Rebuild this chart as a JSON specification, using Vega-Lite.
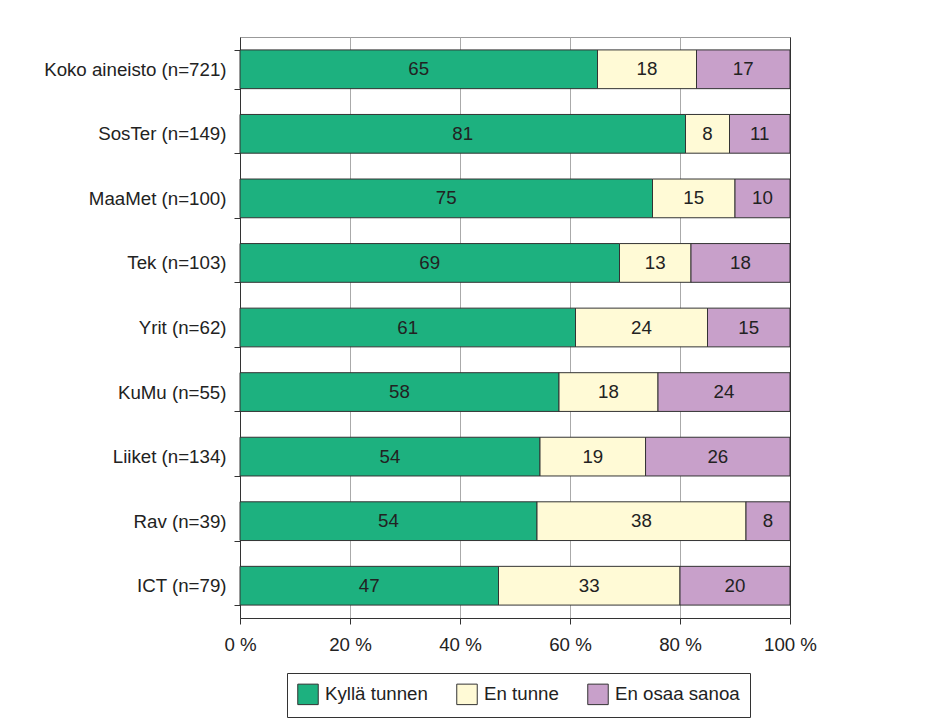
{
  "$schema": "https://vega.github.io/schema/vega-lite/v6.json",
  "width": 550,
  "height": 581,
  "autosize": {"type": "none"},
  "padding": {"left": 240, "top": 37, "right": 135, "bottom": 109},
  "background": "white",
  "config": {
    "font": "Liberation Sans",
    "view": {"stroke": "#999", "strokeWidth": 1}
  },
  "data": {
    "values": [
      {"ryhma": "Koko aineisto (n=721)", "vastaus": "Kyllä tunnen", "o": 1, "pct": 65},
      {"ryhma": "Koko aineisto (n=721)", "vastaus": "En tunne", "o": 2, "pct": 18},
      {"ryhma": "Koko aineisto (n=721)", "vastaus": "En osaa sanoa", "o": 3, "pct": 17},
      {"ryhma": "SosTer (n=149)", "vastaus": "Kyllä tunnen", "o": 1, "pct": 81},
      {"ryhma": "SosTer (n=149)", "vastaus": "En tunne", "o": 2, "pct": 8},
      {"ryhma": "SosTer (n=149)", "vastaus": "En osaa sanoa", "o": 3, "pct": 11},
      {"ryhma": "MaaMet (n=100)", "vastaus": "Kyllä tunnen", "o": 1, "pct": 75},
      {"ryhma": "MaaMet (n=100)", "vastaus": "En tunne", "o": 2, "pct": 15},
      {"ryhma": "MaaMet (n=100)", "vastaus": "En osaa sanoa", "o": 3, "pct": 10},
      {"ryhma": "Tek (n=103)", "vastaus": "Kyllä tunnen", "o": 1, "pct": 69},
      {"ryhma": "Tek (n=103)", "vastaus": "En tunne", "o": 2, "pct": 13},
      {"ryhma": "Tek (n=103)", "vastaus": "En osaa sanoa", "o": 3, "pct": 18},
      {"ryhma": "Yrit (n=62)", "vastaus": "Kyllä tunnen", "o": 1, "pct": 61},
      {"ryhma": "Yrit (n=62)", "vastaus": "En tunne", "o": 2, "pct": 24},
      {"ryhma": "Yrit (n=62)", "vastaus": "En osaa sanoa", "o": 3, "pct": 15},
      {"ryhma": "KuMu (n=55)", "vastaus": "Kyllä tunnen", "o": 1, "pct": 58},
      {"ryhma": "KuMu (n=55)", "vastaus": "En tunne", "o": 2, "pct": 18},
      {"ryhma": "KuMu (n=55)", "vastaus": "En osaa sanoa", "o": 3, "pct": 24},
      {"ryhma": "Liiket (n=134)", "vastaus": "Kyllä tunnen", "o": 1, "pct": 54},
      {"ryhma": "Liiket (n=134)", "vastaus": "En tunne", "o": 2, "pct": 19},
      {"ryhma": "Liiket (n=134)", "vastaus": "En osaa sanoa", "o": 3, "pct": 26},
      {"ryhma": "Rav (n=39)", "vastaus": "Kyllä tunnen", "o": 1, "pct": 54},
      {"ryhma": "Rav (n=39)", "vastaus": "En tunne", "o": 2, "pct": 38},
      {"ryhma": "Rav (n=39)", "vastaus": "En osaa sanoa", "o": 3, "pct": 8},
      {"ryhma": "ICT (n=79)", "vastaus": "Kyllä tunnen", "o": 1, "pct": 47},
      {"ryhma": "ICT (n=79)", "vastaus": "En tunne", "o": 2, "pct": 33},
      {"ryhma": "ICT (n=79)", "vastaus": "En osaa sanoa", "o": 3, "pct": 20}
    ]
  },
  "encoding": {
    "y": {
      "field": "ryhma",
      "type": "nominal",
      "sort": null,
      "scale": {"paddingInner": 0.4, "paddingOuter": 0.2},
      "axis": {
        "title": null,
        "labelFontSize": 18.7,
        "labelColor": "#222",
        "labelLimit": 300,
        "labelPadding": 8,
        "tickSize": 6,
        "tickColor": "#333",
        "domainColor": "#333",
        "tickBand": "extent"
      }
    },
    "order": {"field": "o", "type": "quantitative"}
  },
  "layer": [
    {
      "mark": {"type": "bar", "stroke": "#333", "strokeWidth": 1},
      "encoding": {
        "x": {
          "field": "pct",
          "type": "quantitative",
          "stack": "normalize",
          "scale": {"domain": [0, 1], "nice": false},
          "axis": {
            "title": null,
            "values": [0, 0.2, 0.4, 0.6, 0.8, 1],
            "labelExpr": "format(datum.value * 100, 'd') + ' %'",
            "labelFontSize": 18.7,
            "labelColor": "#222",
            "labelPadding": 11,
            "tickSize": 6,
            "tickColor": "#333",
            "domainColor": "#333",
            "grid": true,
            "gridColor": {"condition": {"test": "datum.value === 1", "value": "#333"}, "value": "#aaa"},
            "labelFlush": false
          }
        },
        "color": {
          "field": "vastaus",
          "type": "nominal",
          "scale": {
            "domain": ["Kyllä tunnen", "En tunne", "En osaa sanoa"],
            "range": ["#1db17f", "#fffad6", "#c8a0ca"]
          },
          "legend": {
            "title": null,
            "orient": "none",
            "legendX": 47,
            "legendY": 636,
            "direction": "horizontal",
            "symbolType": "square",
            "symbolSize": 420,
            "symbolStrokeColor": "#333",
            "symbolStrokeWidth": 1,
            "symbolOpacity": 1,
            "labelFontSize": 18.7,
            "labelColor": "#222",
            "labelOffset": 6,
            "columnPadding": 26,
            "padding": 10,
            "strokeColor": "#333",
            "fillColor": "white"
          }
        }
      }
    },
    {
      "mark": {"type": "text", "fontSize": 18.7, "color": "#222"},
      "encoding": {
        "x": {"field": "pct", "type": "quantitative", "stack": "normalize", "bandPosition": 0.5},
        "text": {"field": "pct", "type": "quantitative"}
      }
    }
  ]
}
